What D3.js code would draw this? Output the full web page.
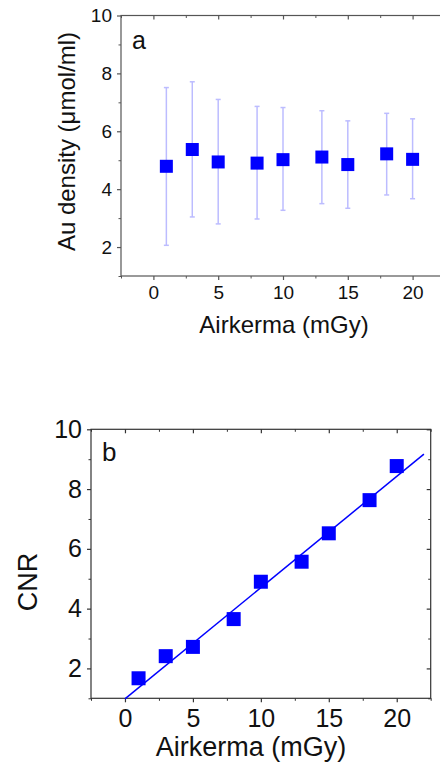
<!DOCTYPE html>
<html>
<head>
<meta charset="utf-8">
<script src="https://cdn.jsdelivr.net/npm/d3@7"></script>
<style>
html,body{margin:0;padding:0;background:#fff;}
svg{display:block;}
text{font-family:Arial,"Liberation Sans",sans-serif;fill:#111;}
</style>
</head>
<body>
<svg id="c" width="440" height="771"></svg>
<script>
// ---- data ----
const airkerma = [1, 3, 5, 8, 10, 13, 15, 18, 20];
const auDensity = [4.79, 5.37, 4.94, 4.90, 5.02, 5.11, 4.85, 5.22, 5.03];
const auErrLow = [2.06, 3.04, 2.80, 2.97, 3.27, 3.50, 3.34, 3.80, 3.67];
const auErrHigh = [7.51, 7.71, 7.10, 6.86, 6.82, 6.71, 6.36, 6.62, 6.43];
const cnr = [1.67, 2.41, 2.72, 3.65, 4.90, 5.57, 6.52, 7.63, 8.77];
const fitX = [0, 22];
const fitY = [0.98, 9.17];
const xTicks = [0, 5, 10, 15, 20];
const xMinor = [-2.5, 2.5, 7.5, 12.5, 17.5, 22.5];
const yTicks = [2, 4, 6, 8, 10];
const yMinor = [1, 3, 5, 7, 9];

const svg = d3.select("#c");

function panel(o) {
  const g = svg.append("g");
  const x = d3.scaleLinear().domain([-2.5, 22.5]).range([o.left, o.right]);
  const y = d3.scaleLinear().domain([1, 10]).range([o.bottom, o.top]);
  const ac = o.axisColor;
  // frame
  g.append("rect").attr("x", o.left).attr("y", o.top)
    .attr("width", o.right - o.left).attr("height", o.bottom - o.top)
    .attr("fill", "none").attr("stroke", ac).attr("stroke-width", 1.2);

  // bottom axis
  const bx = g.append("g").attr("transform", `translate(0,${o.bottom})`)
    .call(d3.axisBottom(x).tickValues(xTicks).tickSize(4).tickPadding(o.xPad).tickFormat(d3.format("d")));
  bx.select(".domain").remove();
  bx.selectAll("line").attr("stroke", ac).attr("stroke-width", 1.2);
  bx.selectAll("text").attr("font-size", o.tickFont).attr("fill", "#111").attr("font-family", "Arial, Liberation Sans");
  g.append("g").attr("transform", `translate(0,${o.bottom})`)
    .call(d3.axisBottom(x).tickValues(xMinor).tickSize(2.5).tickFormat(""))
    .call(s => { s.select(".domain").remove(); s.selectAll("line").attr("stroke", ac); });
  // top axis ticks (inward)
  g.append("g").attr("transform", `translate(0,${o.top})`)
    .call(d3.axisBottom(x).tickValues(xTicks).tickSize(4).tickFormat(""))
    .call(s => { s.select(".domain").remove(); s.selectAll("line").attr("stroke", ac).attr("stroke-width", 1.2); });
  g.append("g").attr("transform", `translate(0,${o.top})`)
    .call(d3.axisBottom(x).tickValues(xMinor).tickSize(2.5).tickFormat(""))
    .call(s => { s.select(".domain").remove(); s.selectAll("line").attr("stroke", ac); });

  // left axis
  const ly = g.append("g").attr("transform", `translate(${o.left},0)`)
    .call(d3.axisLeft(y).tickValues(yTicks).tickSize(4).tickPadding(o.yPad).tickFormat(d3.format("d")));
  ly.select(".domain").remove();
  ly.selectAll("line").attr("stroke", ac).attr("stroke-width", 1.2);
  ly.selectAll("text").attr("font-size", o.tickFont).attr("fill", "#111").attr("font-family", "Arial, Liberation Sans");
  g.append("g").attr("transform", `translate(${o.left},0)`)
    .call(d3.axisLeft(y).tickValues(yMinor).tickSize(2.5).tickFormat(""))
    .call(s => { s.select(".domain").remove(); s.selectAll("line").attr("stroke", ac); });
  // right axis ticks (inward)
  g.append("g").attr("transform", `translate(${o.right},0)`)
    .call(d3.axisLeft(y).tickValues(yTicks).tickSize(4).tickFormat(""))
    .call(s => { s.select(".domain").remove(); s.selectAll("line").attr("stroke", ac).attr("stroke-width", 1.2); });
  g.append("g").attr("transform", `translate(${o.right},0)`)
    .call(d3.axisLeft(y).tickValues(yMinor).tickSize(2.5).tickFormat(""))
    .call(s => { s.select(".domain").remove(); s.selectAll("line").attr("stroke", ac); });

  // titles
  g.append("text").attr("x", o.xTitleX).attr("y", o.xTitleY).attr("text-anchor", "middle")
    .attr("font-size", o.titleFont).text("Airkerma (mGy)");
  g.append("text").attr("transform", `translate(${o.yTitleX},${o.yTitleY}) rotate(-90)`)
    .attr("text-anchor", "middle").attr("font-size", o.titleFont).text(o.yTitle);
  g.append("text").attr("x", o.tagX).attr("y", o.tagY).attr("font-size", o.tagFont).text(o.tag);
  return { g, x, y };
}

// ---- panel a ----
const A = panel({
  left: 121, right: 445, top: 15.5, bottom: 276,
  axisColor: "#555", tickFont: 19, titleFont: 24, tagFont: 25,
  xPad: 6, yPad: 5,
  xTitleX: 284, xTitleY: 333, yTitleX: 75, yTitleY: 141.5,
  yTitle: "Au density (\u03bcmol/ml)", tag: "a", tagX: 132, tagY: 49
});
const eb = A.g.append("g").attr("stroke", "#bcbcff").attr("stroke-width", 1.5);
airkerma.forEach((d, i) => {
  const cx = A.x(d);
  eb.append("line").attr("x1", cx).attr("x2", cx).attr("y1", A.y(auErrLow[i])).attr("y2", A.y(auErrHigh[i]));
  eb.append("line").attr("x1", cx - 2.5).attr("x2", cx + 2.5).attr("y1", A.y(auErrLow[i])).attr("y2", A.y(auErrLow[i]));
  eb.append("line").attr("x1", cx - 2.5).attr("x2", cx + 2.5).attr("y1", A.y(auErrHigh[i])).attr("y2", A.y(auErrHigh[i]));
});
A.g.append("g").selectAll("rect").data(airkerma).join("rect")
  .attr("x", d => A.x(d) - 6.5).attr("y", (d, i) => A.y(auDensity[i]) - 6.5)
  .attr("width", 13).attr("height", 13).attr("fill", "#0000ff");

// ---- panel b ----
const B = panel({
  left: 91, right: 430.7, top: 429.3, bottom: 698.3,
  axisColor: "#333", tickFont: 25, titleFont: 27, tagFont: 26,
  xPad: 7, yPad: 5,
  xTitleX: 251, xTitleY: 756, yTitleX: 37, yTitleY: 582,
  yTitle: "CNR", tag: "b", tagX: 102, tagY: 461
});
B.g.append("path")
  .datum(fitX.map((d, i) => [d, fitY[i]]))
  .attr("d", d3.line().x(d => B.x(d[0])).y(d => B.y(d[1])))
  .attr("fill", "none").attr("stroke", "#0000ff").attr("stroke-width", 1.5);
B.g.append("g").selectAll("rect").data(airkerma).join("rect")
  .attr("x", d => B.x(d) - 7).attr("y", (d, i) => B.y(cnr[i]) - 7)
  .attr("width", 14).attr("height", 14).attr("fill", "#0000ff");
</script>
</body>
</html>
